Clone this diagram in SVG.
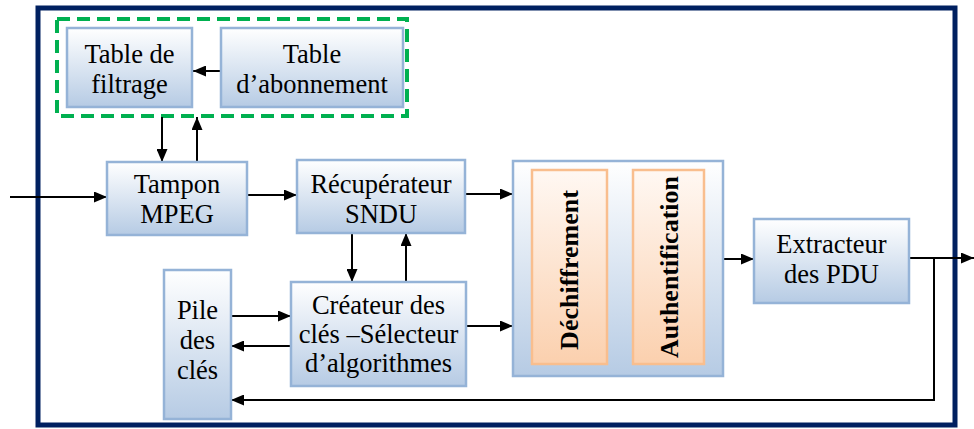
<svg xmlns="http://www.w3.org/2000/svg" width="974" height="429" viewBox="0 0 974 429">
<defs>
<linearGradient id="gb" x1="0" y1="0" x2="0" y2="1">
<stop offset="0" stop-color="#FFFFFF"/>
<stop offset="1" stop-color="#B6CBE4"/>
</linearGradient>
<linearGradient id="go" x1="0" y1="0" x2="0" y2="1">
<stop offset="0" stop-color="#FFF8F3"/>
<stop offset="1" stop-color="#FBD0AE"/>
</linearGradient>
<marker id="ah" markerUnits="userSpaceOnUse" markerWidth="13" markerHeight="11" refX="13" refY="5.5" orient="auto">
<path d="M0,0 L13,5.5 L0,11 z" fill="#000"/>
</marker>
</defs>
<style>
.box{fill:url(#gb);stroke:#95B3D7;stroke-width:2.5}
.obox{fill:url(#go);stroke:#F9BE8E;stroke-width:2.5}
.t{font-family:"Liberation Serif","Times New Roman",serif;font-size:26.5px;fill:#000;text-anchor:middle}
.vt{font-family:"Liberation Serif","Times New Roman",serif;font-size:26px;font-weight:bold;fill:#000;text-anchor:middle}
.c{fill:none;stroke:#000;stroke-width:2}
.a{marker-end:url(#ah)}
</style>
<rect x="0" y="0" width="974" height="429" fill="#fff"/>
<rect x="38" y="8" width="917" height="417" fill="#fff" stroke="#002060" stroke-width="5"/>
<rect id="subscription-group" x="57" y="19" width="350" height="97" fill="none" stroke="#00B050" stroke-width="4" stroke-dasharray="13,7"/>

<g id="connectors">
<line class="c a" x1="221" y1="71" x2="193" y2="71"/>
<line class="c a" x1="162" y1="117" x2="162" y2="162"/>
<line class="c a" x1="197" y1="162" x2="197" y2="117"/>
<line class="c a" x1="10" y1="197" x2="107" y2="197"/>
<line class="c a" x1="247" y1="195" x2="297" y2="195"/>
<line class="c a" x1="465" y1="194" x2="513" y2="194"/>
<line class="c a" x1="352" y1="233" x2="352" y2="282"/>
<line class="c a" x1="406" y1="282" x2="406" y2="233"/>
<line class="c a" x1="231" y1="316" x2="291" y2="316"/>
<line class="c a" x1="291" y1="346" x2="231" y2="346"/>
<line class="c a" x1="466" y1="326" x2="513" y2="326"/>
<line class="c a" x1="607" y1="268" x2="633" y2="268"/>
<line class="c a" x1="723" y1="259" x2="754" y2="259"/>
<line class="c a" x1="909" y1="258" x2="974" y2="258"/>
<polyline class="c a" points="934,258 934,400 231,400"/>
</g>

<g id="table-filtrage">
<rect class="box" x="67" y="28" width="125" height="79"/>
<text class="t" x="129.5" y="63">Table de</text>
<text class="t" x="129.5" y="93">filtrage</text>
</g>
<g id="table-abonnement">
<rect class="box" x="221" y="28" width="182" height="79"/>
<text class="t" x="312" y="63">Table</text>
<text class="t" x="312" y="93">d’abonnement</text>
</g>
<g id="tampon-mpeg">
<rect class="box" x="107" y="162" width="140" height="73"/>
<text class="t" x="177" y="193">Tampon</text>
<text class="t" x="177" y="223">MPEG</text>
</g>
<g id="recuperateur-sndu">
<rect class="box" x="297" y="160" width="168" height="73"/>
<text class="t" x="381" y="193">Récupérateur</text>
<text class="t" x="381" y="223">SNDU</text>
</g>
<g id="pile-cles">
<rect class="box" x="164" y="270" width="67" height="149"/>
<text class="t" x="197.5" y="319">Pile</text>
<text class="t" x="197.5" y="349">des</text>
<text class="t" x="197.5" y="379">clés</text>
</g>
<g id="createur-cles">
<rect class="box" x="291" y="282" width="175" height="104"/>
<text class="t" x="378.5" y="314">Créateur des</text>
<text class="t" x="378.5" y="343">clés –Sélecteur</text>
<text class="t" x="378.5" y="372">d’algorithmes</text>
</g>
<g id="securite">
<rect class="box" x="513" y="161" width="210" height="215"/>
</g>
<g id="dechiffrement">
<rect class="obox" x="532" y="170" width="75" height="194"/>
<text class="vt" transform="translate(578,270) rotate(-90)">Déchiffrement</text>
</g>
<g id="authentification">
<rect class="obox" x="633" y="170" width="71" height="194"/>
<text class="vt" transform="translate(678,267) rotate(-90)">Authentification</text>
</g>
<g id="extracteur-pdu">
<rect class="box" x="754" y="219" width="155" height="84"/>
<text class="t" x="831.5" y="253">Extracteur</text>
<text class="t" x="831.5" y="283">des PDU</text>
</g>
</svg>
